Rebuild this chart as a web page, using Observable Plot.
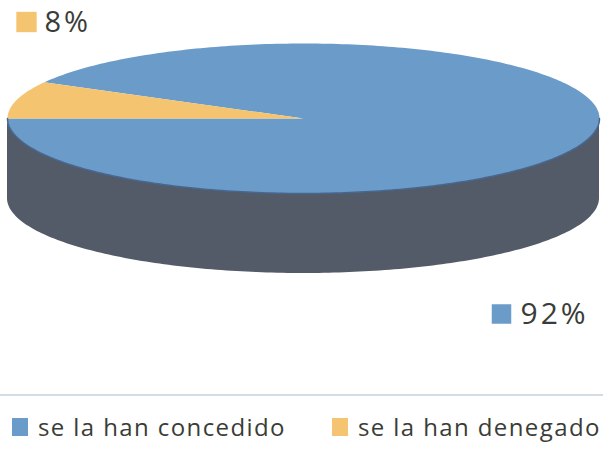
<!DOCTYPE html>
<html>
<head>
<meta charset="utf-8">
<script src="https://cdn.jsdelivr.net/npm/d3@7"></script>
<script src="https://cdn.jsdelivr.net/npm/@observablehq/plot@0.6"></script>
<style>
  html, body { margin: 0; padding: 0; background: #fff; }
  #chart { width: 603px; font-family: "Open Sans", sans-serif; color: #3a3c38; }
  #chart svg g[aria-label="text"] text { letter-spacing: 3px; }
  .legend { border-top: 2px solid #d3dbe3; height: 54px; position: relative; margin-top: 0; }
  .item { position: absolute; top: 14px; display: flex; align-items: center; font-size: 24px; letter-spacing: 1.4px; white-space: nowrap; }
  .sw { display: inline-block; width: 16px; height: 18px; margin-right: 10px; }
</style>
</head>
<body>
<div id="chart"></div>
<script>
// Data
const categories = ["se la han concedido", "se la han denegado"];
const values = [92, 8];
const colors = ["#6b9bc9", "#f5c470"];
const sideColor = "#535a68";

const total = d3.sum(values);
const depth = 80 / 75; // side thickness in y units (ellipse semi-axis = 1)

// slices start at 9 o'clock, going counter-clockwise in math terms
const startDeg = 180;
const slicePts = [];
let acc = startDeg;
categories.forEach((c, i) => {
  const span = values[i] / total * 360;
  const a0 = acc, a1 = acc + span;
  slicePts.push({cat: c, x: 0, y: 0});
  const n = Math.max(2, Math.ceil(span));
  for (let k = 0; k <= n; k++) {
    const t = (a0 + (a1 - a0) * k / n) * Math.PI / 180;
    slicePts.push({cat: c, x: Math.cos(t), y: Math.sin(t)});
  }
  slicePts.push({cat: c, x: 0, y: 0});
  acc = a1;
});

// visible side (front half)
const sidePts = d3.range(180, 361, 1).map(d => {
  const t = d * Math.PI / 180;
  return {x: Math.cos(t), y1: Math.sin(t), y2: Math.sin(t) - depth};
});

const pct = v => Math.round(v / total * 100) + "%";

const plot = Plot.plot({
  width: 603,
  height: 394,
  margin: 0,
  x: {domain: [-1, 1], range: [7, 599], axis: null},
  y: {domain: [-1, 1], range: [193, 43], axis: null},
  color: {domain: categories, range: colors},
  style: {fontFamily: "'Open Sans', sans-serif", background: "#fff"},
  marks: [
    Plot.areaY(sidePts, {x: "x", y1: "y1", y2: "y2", fill: sideColor}),
    Plot.line(slicePts, {x: "x", y: "y", z: "cat", fill: "cat", stroke: "none", curve: "linear"}),
    Plot.line(sidePts, {x: "x", y: "y1", stroke: "#48678f", strokeWidth: 1.5}),
    // percentage labels
    Plot.dot([categories[1]], {frameAnchor: "top-left", dx: 26, dy: 21.5, symbol: "square", r: 11.5, fill: colors[1]}),
    Plot.text([pct(values[1])], {frameAnchor: "top-left", dx: 44, dy: 22.5, textAnchor: "start", lineAnchor: "middle", fontSize: 29, fill: "#3a3c38"}),
    Plot.dot([categories[0]], {frameAnchor: "top-left", dx: 501, dy: 313.5, symbol: "square", r: 11, fill: colors[0]}),
    Plot.text([pct(values[0])], {frameAnchor: "top-left", dx: 520, dy: 313.5, textAnchor: "start", lineAnchor: "middle", fontSize: 30, fill: "#3a3c38"})
  ]
});

const root = document.getElementById("chart");
root.appendChild(plot);
const legend = document.createElement("div");
legend.className = "legend";
const lefts = [12, 332];
categories.forEach((c, i) => {
  const it = document.createElement("div");
  it.className = "item";
  it.style.left = lefts[i] + "px";
  it.innerHTML = `<span class="sw" style="background:${colors[i]}"></span><span>${c}</span>`;
  legend.appendChild(it);
});
root.appendChild(legend);
</script>
</body>
</html>
